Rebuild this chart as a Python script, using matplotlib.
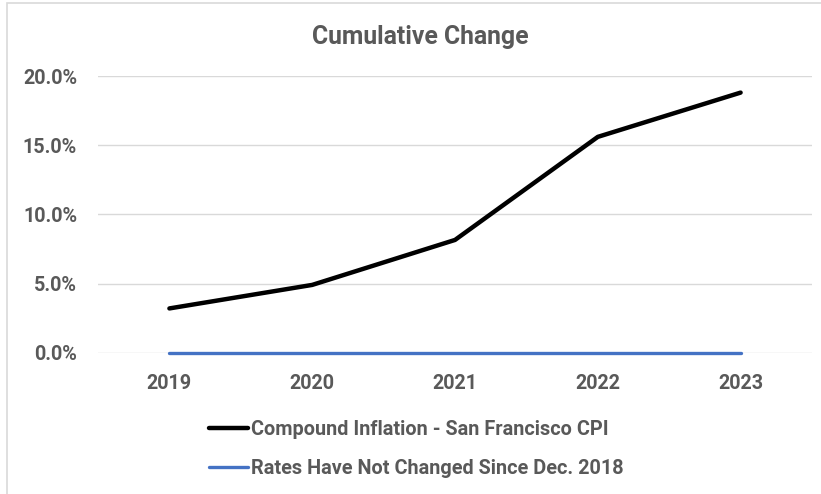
import matplotlib
matplotlib.use("Agg")
import matplotlib.pyplot as plt
from matplotlib.patches import Rectangle
from matplotlib.ticker import FuncFormatter

years = ["2019", "2020", "2021", "2022", "2023"]
inflation = [0.032, 0.049, 0.0815, 0.156, 0.188]
rates = [0.0, 0.0, 0.0, 0.0, 0.0]
yticks = [0.0, 0.05, 0.10, 0.15, 0.20]

plt.rcParams['font.family'] = ['Roboto', 'DejaVu Sans']
txt = "#595959"

fig = plt.figure(figsize=(8.21, 4.94), dpi=100)
# chart area border (Excel style)
fig.patches.append(Rectangle((7 / 821, -0.05), 1.0, 1 - 3 / 494 + 0.05, transform=fig.transFigure,
                             fill=False, edgecolor="#d9d9d9", linewidth=1.2))

ax = fig.add_axes([98 / 821, 1 - 352.7 / 494, 714 / 821, (352.7 - 76) / 494])
x = list(range(len(years)))
ax.plot(x, inflation, color="black", linewidth=3.2, solid_capstyle="round",
        label="Compound Inflation - San Francisco CPI", zorder=3)
ax.plot(x, rates, color="#4472C4", linewidth=2.4, solid_capstyle="round", clip_on=False,
        label="Rates Have Not Changed Since Dec. 2018", zorder=3)

ax.set_xlim(-0.5, len(years) - 0.5)
ax.set_ylim(0, 0.2)
ax.set_yticks(yticks)
ax.yaxis.set_major_formatter(FuncFormatter(lambda v, p: "%.1f%%" % (v * 100)))
ax.set_xticks(x)
ax.set_xticklabels(years)
ax.grid(axis="y", color="#d9d9d9", linewidth=1.0, zorder=0)
for s in ax.spines.values():
    s.set_visible(False)
ax.tick_params(length=0, labelsize=14.2, labelcolor=txt)
ax.tick_params(axis="y", pad=15)
ax.tick_params(axis="x", pad=15)
for lbl in ax.get_xticklabels() + ax.get_yticklabels():
    lbl.set_fontweight("bold")

fig.text(420 / 821, 1 - 37 / 494, "Cumulative Change", ha="center", va="center",
         fontsize=17.8, fontweight="bold", color=txt)

leg = fig.legend(loc="upper left", bbox_to_anchor=(191 / 821, 1 - 402 / 494), frameon=False,
                 handlelength=1.95, handletextpad=0.15, labelspacing=1.0,
                 prop={"size": 14.3, "weight": "bold"})
for t in leg.get_texts():
    t.set_color(txt)

fig.savefig("out.png", dpi=100)
